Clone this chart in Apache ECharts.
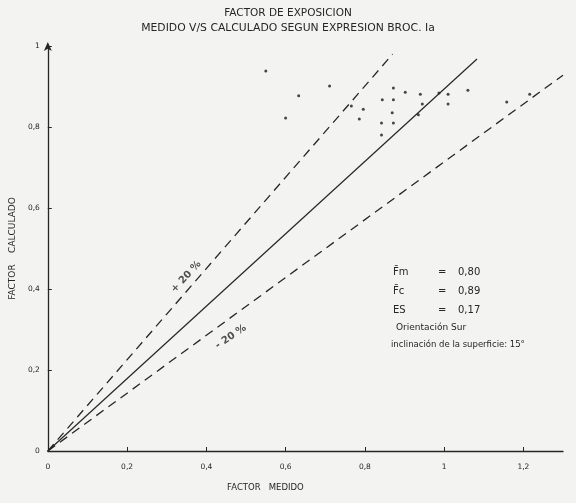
<!DOCTYPE html>
<html>
<head>
<meta charset="utf-8">
<script src="https://cdn.jsdelivr.net/npm/echarts@6/dist/echarts.min.js"></script>
<style>
  html, body { margin: 0; padding: 0; background: #f3f3f1; }
  #chart { width: 576px; height: 503px; }
</style>
</head>
<body>
<div id="chart"></div>
<script>
// valores (factor medido, factor calculado)
var medido = [0.550, 0.711, 0.633, 0.600, 0.766, 0.796, 0.786, 0.872, 0.902, 0.844, 0.872, 0.869,
              0.842, 0.872, 0.842, 0.940, 0.987, 1.010, 1.010, 0.945, 0.935, 1.060, 1.158, 1.216];
var calculado = [0.938, 0.901, 0.877, 0.822, 0.852, 0.844, 0.820, 0.896, 0.886, 0.867, 0.867, 0.835,
                 0.810, 0.810, 0.780, 0.881, 0.884, 0.881, 0.857, 0.857, 0.830, 0.891, 0.862, 0.881];

// rectas: inicio y fin
var rectaIgual = [[0, 0], [1.083, 0.968]];
var rectaMas20 = [[0, 0], [0.870, 0.980]];
var rectaMenos20 = [[0, 0], [1.300, 0.928]];

var etiquetaMas = [0.349, 0.430];
var etiquetaMenos = [0.462, 0.282];

var xTicks = [0, 0.2, 0.4, 0.6, 0.8, 1, 1.2];
var xTickLabels = ['0', '0,2', '0,4', '0,6', '0,8', '1', '1,2'];
var yTicks = [0, 0.2, 0.4, 0.6, 0.8, 1];
var yTickLabels = ['0', '0,2', '0,4', '0,6', '0,8', '1'];

var resumen = [
  ['F\u0304m', '=', '0,80'],
  ['F\u0304c', '=', '0,89'],
  ['ES', '=', '0,17']
];

var puntos = medido.map(function (v, i) { return [v, calculado[i]]; });
var ink = '#262626';
var fuente = 'DejaVu Sans';

var chart = echarts.init(document.getElementById('chart'));

function labelFor(values, labels) {
  return function (v) {
    for (var i = 0; i < values.length; i++) {
      if (Math.abs(values[i] - v) < 1e-6) return labels[i];
    }
    return '';
  };
}

var graphics = [];
resumen.forEach(function (r, i) {
  var y = 267 + i * 19;
  graphics.push({ type: 'text', left: 393, top: y, style: { text: r[0], font: '10px ' + fuente, fill: ink } });
  graphics.push({ type: 'text', left: 438, top: y, style: { text: r[1], font: '10px ' + fuente, fill: ink } });
  graphics.push({ type: 'text', left: 458, top: y, style: { text: r[2], font: '10px ' + fuente, fill: ink } });
});
graphics.push({ type: 'text', left: 396, top: 323, style: { text: 'Orientación Sur', font: '9px ' + fuente, fill: ink } });
graphics.push({ type: 'text', left: 391, top: 340, style: { text: 'inclinación de la superficie: 15°', font: '8.5px ' + fuente, fill: ink } });

var option = {
  backgroundColor: '#f3f3f1',
  animation: false,
  title: {
    text: 'FACTOR DE EXPOSICION',
    subtext: 'MEDIDO V/S CALCULADO SEGUN EXPRESION BROC. Ia',
    left: 'center',
    top: 8,
    padding: [0, 0, 0, 26],
    itemGap: 4,
    textStyle: { fontFamily: fuente, fontSize: 10.5, fontWeight: 'normal', color: ink },
    subtextStyle: { fontFamily: fuente, fontSize: 10.8, color: ink }
  },
  grid: { left: 47, right: 13, top: 46, bottom: 52 },
  xAxis: {
    type: 'value',
    min: 0,
    max: 1.3,
    name: 'FACTOR   MEDIDO',
    nameLocation: 'middle',
    nameGap: 32,
    nameTextStyle: { fontFamily: fuente, fontSize: 8.5, color: ink, padding: [0, 80, 0, 0] },
    axisLine: { lineStyle: { color: ink, width: 1.3 } },
    axisTick: { inside: true, length: 4, lineStyle: { color: ink }, customValues: xTicks },
    axisLabel: {
      fontFamily: fuente, fontSize: 7.5, color: ink, margin: 12,
      customValues: xTicks, formatter: labelFor(xTicks, xTickLabels)
    },
    splitLine: { show: false }
  },
  yAxis: {
    type: 'value',
    min: 0,
    max: 1,
    interval: 0.2,
    name: 'FACTOR    CALCULADO',
    nameLocation: 'middle',
    nameGap: 25,
    nameRotate: 90,
    nameTextStyle: { fontFamily: fuente, fontSize: 9, color: ink },
    axisLine: { symbol: ['none', 'arrow'], symbolSize: [6, 9], symbolOffset: [0, 4], lineStyle: { color: ink, width: 1.3 } },
    axisTick: { inside: true, length: 4, lineStyle: { color: ink } },
    axisLabel: { fontFamily: fuente, fontSize: 7.5, color: ink, margin: 8, formatter: labelFor(yTicks, yTickLabels) },
    splitLine: { show: false }
  },
  series: [
    {
      type: 'line',
      data: rectaIgual,
      symbol: 'none',
      lineStyle: { color: ink, width: 1.2 },
      silent: true
    },
    {
      type: 'line',
      data: rectaMas20,
      symbol: 'none',
      lineStyle: { color: ink, width: 1.3, type: [9, 6] },
      silent: true
    },
    {
      type: 'line',
      data: rectaMenos20,
      symbol: 'none',
      lineStyle: { color: ink, width: 1.3, type: [9, 6] },
      silent: true
    },
    {
      type: 'scatter',
      data: puntos,
      symbolSize: 3,
      itemStyle: { color: '#1a1a1a' }
    },
    {
      type: 'scatter',
      symbolSize: 0,
      data: [
        { value: etiquetaMas, name: '+ 20 %', label: { rotate: 47 } },
        { value: etiquetaMenos, name: '- 20 %', label: { rotate: 34 } }
      ],
      label: {
        show: true,
        position: 'inside',
        formatter: '{b}',
        fontFamily: fuente,
        fontSize: 10,
        fontWeight: 'bold',
        color: ink
      },
      silent: true
    }
  ],
  graphic: graphics
};

chart.setOption(option);
</script>
</body>
</html>
